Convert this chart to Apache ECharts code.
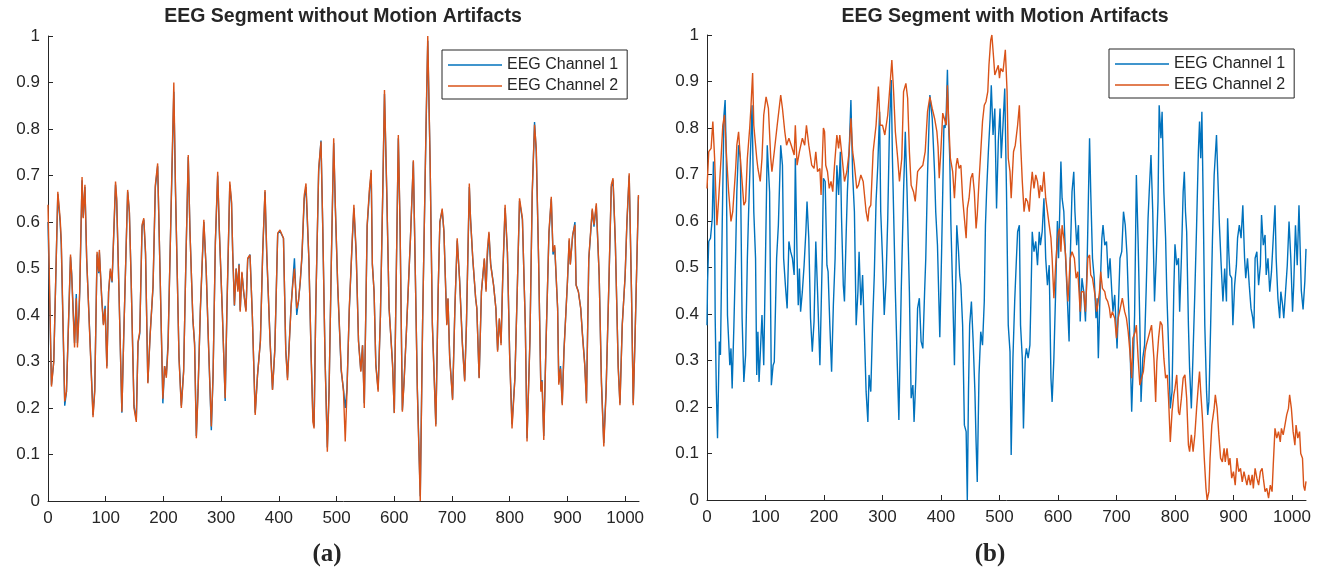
<!DOCTYPE html>
<html>
<head>
<meta charset="utf-8">
<script src="https://cdn.jsdelivr.net/npm/echarts@6/dist/echarts.min.js"></script>
<style>
  html, body { margin: 0; padding: 0; background: #fff; }
  #chart { width: 1326px; height: 571px; }
</style>
</head>
<body>
<div id="chart"></div>
<script>
// tick labels
const xTicks = [0, 100, 200, 300, 400, 500, 600, 700, 800, 900, 1000];
const seriesNames = ['EEG Channel 1', 'EEG Channel 2'];

// (a) without motion artifacts: sample index + both channels
const aX = [0,6,10,17,21,23,29,32,39,41,46,49,51,54,55,59,61,64,67,73,78,81,85,88,89,93,96,99,102,105,108,111,117,119,123,128,131,138,141,144,149,153,156,159,163,166,169,173,177,182,186,190,194,
  199,202,205,208,218,221,227,231,235,239,243,246,251,254,257,260,264,270,274,278,283,286,290,294,297,302,307,310,315,318,320,323,326,329,331,333,336,339,343,346,350,354,359,363,368,372,376,379,385,389,393,398,402,408,
  412,415,421,424,427,431,434,437,440,444,447,452,456,459,461,464,469,473,476,480,484,487,491,495,498,502,508,512,515,518,522,527,530,534,538,542,545,548,551,553,557,560,562,565,568,572,576,580,583,587,591,597,600,603,607,610,
  614,617,621,628,633,636,640,645,649,655,658,662,666,672,676,679,683,686,691,693,696,701,705,709,713,718,722,725,730,732,736,741,743,747,751,756,759,761,764,767,772,776,779,782,785,788,792,796,800,804,809,813,817,
  822,827,830,835,839,843,846,850,854,856,859,863,868,872,875,878,883,885,888,891,894,900,903,905,909,913,915,919,923,926,930,933,937,943,946,950,955,959,963,967,972,976,979,983,988,991,995,1000,1003,1007,1011,1014,1017,1023];
const aCh2 = [0.637,0.246,0.30,0.665,0.608,0.56,0.214,0.235,0.53,0.486,0.33,0.436,0.33,0.41,0.457,0.697,0.608,0.68,0.522,0.335,0.18,0.235,0.536,0.493,0.54,0.436,0.378,0.414,0.285,0.45,0.50,0.472,0.687,0.651,0.45,0.192,0.343,0.669,0.622,0.479,0.20,0.17,0.343,0.364,0.594,0.608,0.536,0.253,0.357,0.464,0.68,0.726,0.50,
  0.22,0.29,0.265,0.33,0.90,0.665,0.307,0.20,0.278,0.522,0.744,0.579,0.393,0.335,0.135,0.235,0.414,0.605,0.50,0.343,0.16,0.271,0.558,0.708,0.579,0.407,0.221,0.414,0.687,0.644,0.536,0.421,0.50,0.45,0.508,0.407,0.493,0.45,0.407,0.522,0.529,0.40,0.185,0.271,0.343,0.536,0.669,0.536,0.335,0.239,0.325,0.576,0.583,0.565,
  0.321,0.26,0.414,0.464,0.50,0.414,0.43,0.472,0.529,0.658,0.683,0.522,0.307,0.17,0.156,0.421,0.715,0.773,0.594,0.307,0.106,0.235,0.522,0.78,0.629,0.464,0.285,0.235,0.128,0.235,0.414,0.558,0.637,0.536,0.343,0.278,0.335,0.20,0.436,0.594,0.672,0.712,0.508,0.45,0.292,0.235,0.40,0.665,0.884,0.665,0.414,0.292,0.189,0.45,0.787,0.594,
  0.192,0.257,0.364,0.565,0.733,0.522,0.235,0.0,0.378,0.809,1.0,0.737,0.378,0.16,0.45,0.60,0.629,0.579,0.378,0.436,0.307,0.217,0.414,0.565,0.479,0.335,0.257,0.378,0.683,0.608,0.522,0.436,0.414,0.264,0.45,0.522,0.45,0.536,0.579,0.508,0.464,0.414,0.321,0.393,0.335,0.486,0.637,0.536,0.307,0.156,0.264,0.45,0.651,
  0.608,0.378,0.128,0.343,0.665,0.809,0.758,0.522,0.235,0.257,0.131,0.343,0.579,0.654,0.536,0.55,0.414,0.25,0.285,0.206,0.321,0.472,0.565,0.508,0.572,0.594,0.464,0.45,0.414,0.357,0.292,0.21,0.522,0.629,0.594,0.64,0.486,0.25,0.117,0.235,0.479,0.68,0.694,0.558,0.285,0.206,0.378,0.486,0.60,0.705,0.45,0.206,0.343,0.658];
const aCh1 = [0.60,0.25,0.30,0.66,0.60,0.55,0.205,0.235,0.525,0.49,0.34,0.445,0.34,0.42,0.45,0.69,0.61,0.675,0.52,0.34,0.185,0.24,0.53,0.49,0.535,0.44,0.38,0.42,0.29,0.45,0.495,0.47,0.68,0.645,0.45,0.19,0.345,0.665,0.62,0.48,0.205,0.175,0.34,0.36,0.59,0.605,0.53,0.255,0.36,0.46,0.675,0.72,0.50,
  0.21,0.29,0.27,0.34,0.88,0.66,0.31,0.205,0.28,0.52,0.74,0.58,0.39,0.34,0.14,0.24,0.41,0.60,0.50,0.34,0.152,0.27,0.555,0.70,0.575,0.41,0.215,0.41,0.68,0.64,0.535,0.42,0.50,0.455,0.51,0.41,0.49,0.45,0.41,0.52,0.53,0.40,0.19,0.27,0.345,0.535,0.665,0.53,0.34,0.24,0.325,0.575,0.58,0.565,
  0.325,0.265,0.415,0.47,0.522,0.40,0.43,0.47,0.525,0.65,0.675,0.52,0.31,0.18,0.16,0.42,0.71,0.775,0.59,0.31,0.115,0.24,0.52,0.77,0.625,0.46,0.28,0.24,0.20,0.24,0.41,0.555,0.63,0.53,0.345,0.28,0.335,0.21,0.43,0.59,0.665,0.705,0.51,0.45,0.295,0.24,0.40,0.66,0.875,0.66,0.415,0.295,0.19,0.45,0.78,0.59,
  0.195,0.26,0.365,0.565,0.73,0.52,0.24,0.01,0.38,0.80,0.99,0.735,0.38,0.165,0.45,0.60,0.625,0.58,0.38,0.435,0.31,0.22,0.415,0.56,0.48,0.34,0.26,0.38,0.675,0.61,0.52,0.435,0.415,0.265,0.45,0.52,0.455,0.52,0.575,0.51,0.465,0.415,0.325,0.39,0.34,0.485,0.63,0.535,0.31,0.165,0.265,0.45,0.645,
  0.605,0.38,0.135,0.345,0.66,0.815,0.75,0.52,0.24,0.26,0.14,0.345,0.575,0.65,0.53,0.545,0.415,0.255,0.29,0.21,0.325,0.47,0.56,0.51,0.57,0.60,0.465,0.45,0.415,0.36,0.295,0.215,0.52,0.625,0.59,0.635,0.485,0.255,0.125,0.24,0.475,0.675,0.69,0.555,0.29,0.21,0.38,0.485,0.595,0.70,0.45,0.21,0.345,0.655];

// (b) with motion artifacts: channel 1
const bX1 = [0,1,3,6,9,11,13,14,16,18,21,23,26,29,31,33,35,39,41,43,46,49,51,54,57,60,63,66,69,71,74,77,80,83,85,87,89,91,94,97,100,103,107,110,113,115,119,122,126,129,131,134,137,140,143,146,149,151,154,156,158,160,163,166,169,171,174,177,180,183,186,189,193,197,
  199,202,205,207,210,213,216,219,222,225,228,230,233,235,238,240,243,246,249,252,255,258,260,263,266,269,272,275,277,280,283,286,289,292,295,297,300,303,306,309,312,315,317,322,325,328,332,336,339,342,346,349,352,354,357,360,363,366,369,372,374,377,381,385,389,391,394,398,
  401,403,405,407,409,411,413,415,417,420,423,425,427,430,432,434,437,440,443,445,447,449,452,455,458,460,462,465,468,471,474,476,478,481,484,486,489,492,495,498,501,503,506,509,512,515,518,520,523,526,529,531,534,536,539,541,544,546,549,552,554,556,559,562,565,568,570,573,576,579,582,585,588,590,593,596,599,
  601,603,605,607,610,613,616,619,621,624,627,629,632,635,638,641,644,647,650,654,656,659,662,665,667,669,672,675,677,680,683,686,689,692,694,697,701,703,706,709,712,715,718,720,723,726,729,731,734,737,740,742,745,748,751,754,756,759,762,765,768,771,773,776,778,781,784,786,789,792,795,798,
  800,803,806,808,811,814,816,818,820,823,825,828,831,834,837,840,842,844,846,848,851,854,856,858,861,864,867,871,873,876,879,882,885,888,890,892,894,897,899,902,905,907,910,913,916,919,921,924,927,930,933,935,937,940,943,946,948,951,954,956,959,962,965,968,971,973,976,979,981,984,986,989,992,995,998,1001,1003,1006,1009,1012,1016,1019,1022,1024];
const bCh1 = [0.376,0.47,0.556,0.563,0.606,0.728,0.591,0.391,0.233,0.133,0.341,0.312,0.591,0.828,0.86,0.735,0.398,0.29,0.326,0.24,0.376,0.534,0.663,0.763,0.735,0.391,0.254,0.312,0.52,0.613,0.735,0.849,0.62,0.52,0.269,0.362,0.254,0.254,0.398,0.29,0.52,0.763,0.663,0.247,0.29,0.297,0.52,0.591,0.763,0.72,0.52,0.462,0.412,0.556,0.534,0.52,0.484,0.735,0.52,0.419,0.498,0.405,0.448,0.505,0.577,0.642,0.563,0.391,0.319,0.384,0.556,0.448,0.29,0.52,
  0.692,0.685,0.505,0.491,0.376,0.276,0.419,0.52,0.72,0.656,0.749,0.606,0.462,0.427,0.577,0.663,0.749,0.86,0.699,0.62,0.376,0.448,0.534,0.419,0.484,0.362,0.233,0.168,0.269,0.233,0.376,0.484,0.642,0.72,0.835,0.62,0.52,0.398,0.47,0.606,0.806,0.903,0.735,0.448,0.305,0.172,0.448,0.663,0.792,0.663,0.448,0.219,0.247,0.168,0.262,0.412,0.434,0.341,0.326,0.448,0.52,0.699,0.871,0.821,0.706,0.62,0.548,0.35,
  0.53,0.663,0.806,0.80,0.835,0.925,0.806,0.735,0.591,0.448,0.29,0.448,0.591,0.534,0.484,0.462,0.376,0.161,0.147,0.0,0.233,0.376,0.427,0.341,0.233,0.125,0.039,0.269,0.362,0.333,0.427,0.591,0.663,0.749,0.821,0.892,0.785,0.842,0.627,0.771,0.842,0.735,0.806,0.885,0.663,0.376,0.319,0.097,0.305,0.427,0.52,0.577,0.591,0.376,0.305,0.154,0.305,0.326,0.305,0.333,0.448,0.577,0.534,0.556,0.505,0.577,0.548,0.577,0.649,0.52,0.462,0.505,0.262,0.211,0.305,0.448,0.60,
  0.52,0.62,0.728,0.649,0.62,0.52,0.434,0.341,0.52,0.663,0.706,0.62,0.548,0.591,0.384,0.477,0.448,0.384,0.52,0.778,0.663,0.52,0.477,0.391,0.434,0.305,0.448,0.563,0.591,0.548,0.556,0.477,0.52,0.448,0.405,0.441,0.326,0.405,0.52,0.534,0.62,0.591,0.527,0.448,0.341,0.19,0.305,0.398,0.699,0.556,0.376,0.211,0.305,0.333,0.462,0.606,0.663,0.742,0.62,0.427,0.52,0.642,0.849,0.778,0.835,0.663,0.563,0.448,0.333,0.197,0.233,0.45,
  0.55,0.505,0.52,0.405,0.52,0.663,0.706,0.62,0.577,0.376,0.283,0.197,0.319,0.448,0.591,0.749,0.814,0.735,0.835,0.663,0.376,0.233,0.183,0.211,0.376,0.556,0.699,0.785,0.706,0.591,0.505,0.427,0.498,0.427,0.606,0.534,0.484,0.477,0.376,0.462,0.505,0.563,0.591,0.563,0.634,0.52,0.477,0.52,0.462,0.412,0.391,0.369,0.52,0.534,0.462,0.505,0.613,0.548,0.57,0.484,0.52,0.448,0.491,0.563,0.634,0.52,0.434,0.391,0.448,0.419,0.391,0.448,0.505,0.599,0.52,0.405,0.462,0.591,0.505,0.634,0.45,0.41,0.47,0.54];

// (b) with motion artifacts: channel 2
const bX2 = [0,3,7,10,13,17,20,24,27,30,33,37,41,44,49,51,54,57,60,63,66,69,73,75,78,80,85,87,91,94,97,101,105,109,111,115,120,126,129,133,136,140,144,149,151,154,158,163,167,170,174,179,183,186,189,193,195,199,
  201,203,206,209,212,215,218,222,225,227,230,235,239,243,246,249,252,256,259,263,267,272,275,277,280,284,289,293,296,300,304,309,312,316,319,322,326,329,333,336,340,343,346,349,353,356,360,364,369,373,377,381,385,389,393,395,397,
  400,403,406,409,411,413,416,420,423,426,428,431,434,437,440,443,445,448,451,454,457,460,462,465,468,471,474,477,480,482,485,487,490,492,495,498,500,502,506,510,513,515,518,520,524,527,531,534,536,539,542,545,548,551,553,556,559,562,565,568,570,573,576,579,582,585,588,590,593,596,599,
  601,603,605,607,610,613,617,621,624,628,631,634,638,640,644,647,651,654,656,659,664,666,668,671,673,676,680,682,685,688,690,693,697,700,703,706,710,714,717,720,723,726,728,732,734,737,740,743,746,749,751,754,757,760,764,767,769,772,775,778,781,784,787,789,792,795,798,
  800,803,806,808,811,814,817,820,823,825,828,831,834,837,840,842,844,847,850,853,855,858,860,863,867,869,872,875,878,881,884,886,889,892,894,897,900,903,906,909,912,915,918,920,923,926,929,932,934,937,940,943,946,949,951,954,957,960,963,966,968,971,974,977,980,982,985,988,991,994,996,999,1002,1005,1007,1010,1013,1015,1018,1020,1022,1024];
const bCh2 = [0.67,0.749,0.756,0.814,0.735,0.591,0.649,0.735,0.806,0.828,0.749,0.663,0.599,0.62,0.713,0.763,0.792,0.735,0.685,0.634,0.642,0.735,0.80,0.842,0.918,0.806,0.735,0.713,0.685,0.735,0.828,0.867,0.842,0.735,0.706,0.749,0.806,0.871,0.842,0.792,0.763,0.778,0.763,0.742,0.806,0.72,0.749,0.778,0.763,0.806,0.763,0.72,0.713,0.749,0.706,0.713,0.656,0.80,
  0.792,0.72,0.706,0.67,0.685,0.663,0.72,0.785,0.756,0.785,0.749,0.685,0.706,0.749,0.821,0.749,0.72,0.67,0.677,0.699,0.685,0.62,0.599,0.627,0.634,0.749,0.806,0.889,0.806,0.806,0.785,0.828,0.878,0.946,0.878,0.792,0.735,0.685,0.735,0.878,0.896,0.864,0.749,0.677,0.663,0.642,0.706,0.713,0.72,0.749,0.835,0.867,0.842,0.821,0.792,0.76,0.692,
  0.756,0.832,0.828,0.806,0.892,0.821,0.735,0.706,0.649,0.72,0.735,0.713,0.72,0.649,0.606,0.563,0.627,0.649,0.692,0.703,0.663,0.584,0.613,0.685,0.749,0.814,0.849,0.857,0.878,0.935,0.989,1.0,0.95,0.914,0.914,0.935,0.907,0.928,0.921,0.968,0.878,0.735,0.706,0.649,0.749,0.763,0.806,0.849,0.771,0.685,0.62,0.649,0.642,0.62,0.663,0.706,0.67,0.699,0.685,0.649,0.677,0.663,0.706,0.649,0.62,0.591,0.563,0.52,0.434,0.505,0.56,
  0.577,0.584,0.534,0.591,0.563,0.527,0.427,0.52,0.534,0.52,0.477,0.491,0.405,0.448,0.448,0.405,0.52,0.527,0.484,0.477,0.434,0.405,0.419,0.448,0.491,0.455,0.448,0.434,0.427,0.412,0.391,0.405,0.391,0.348,0.391,0.391,0.434,0.405,0.391,0.362,0.319,0.262,0.348,0.362,0.376,0.305,0.247,0.262,0.276,0.319,0.333,0.333,0.362,0.376,0.305,0.211,0.297,0.348,0.384,0.376,0.305,0.262,0.269,0.219,0.125,0.19,0.226,
  0.24,0.269,0.19,0.183,0.219,0.262,0.269,0.219,0.118,0.104,0.14,0.104,0.14,0.197,0.247,0.276,0.233,0.176,0.092,0.025,0.0,0.018,0.09,0.161,0.197,0.226,0.197,0.14,0.09,0.082,0.111,0.082,0.111,0.075,0.09,0.047,0.061,0.032,0.09,0.061,0.068,0.039,0.061,0.061,0.032,0.054,0.032,0.054,0.025,0.068,0.047,0.032,0.061,0.068,0.047,0.018,0.025,0.004,0.032,0.018,0.075,0.154,0.133,0.147,0.125,0.154,0.14,0.161,0.183,0.197,0.226,0.197,0.147,0.118,0.161,0.133,0.147,0.10,0.09,0.03,0.02,0.04];

const BLUE = '#0072BD';
const ORANGE = '#D95319';
const INK = '#262626';
const SANS = '"Liberation Sans", Arial, Helvetica, sans-serif';

function pairs(xs, ys) {
  return xs.map((x, i) => [x, ys[i]]);
}

function xAxisFor(gridIndex) {
  return {
    type: 'value', gridIndex: gridIndex, min: 0, max: 1024,
    axisLine: { show: true, lineStyle: { color: INK, width: 1 } },
    axisTick: { show: true, inside: true, length: 5, lineStyle: { color: INK }, customValues: xTicks },
    axisLabel: { color: INK, fontSize: 17, fontFamily: SANS, margin: 9, customValues: xTicks,
                 formatter: v => String(v) },
    splitLine: { show: false }
  };
}

function yAxisFor(gridIndex) {
  return {
    type: 'value', gridIndex: gridIndex, min: 0, max: 1, interval: 0.1,
    axisLine: { show: true, lineStyle: { color: INK, width: 1 } },
    axisTick: { show: true, inside: true, length: 5, lineStyle: { color: INK } },
    axisLabel: { color: INK, fontSize: 17, fontFamily: SANS, margin: 8 },
    splitLine: { show: false }
  };
}

function legendAt(left, top) {
  return {
    data: seriesNames, left: left, top: top, orient: 'vertical',
    selectedMode: false, icon: 'rect', itemWidth: 54, itemHeight: 1.5, itemGap: 3,
    padding: [6, 9, 4, 6],
    borderColor: INK, borderWidth: 1, backgroundColor: '#fff',
    textStyle: { color: INK, fontSize: 16, fontFamily: SANS, lineHeight: 18 }
  };
}

function lineSeries(name, color, data, axisIndex) {
  return {
    name: name, type: 'line', data: data, xAxisIndex: axisIndex, yAxisIndex: axisIndex,
    showSymbol: false, symbol: 'none', smooth: false,
    lineStyle: { color: color, width: 1.4 }, itemStyle: { color: color }
  };
}

function label(text, x, y, font) {
  return { type: 'text', x: x, y: y, style: { text: text, font: font, fill: INK, align: 'center', verticalAlign: 'middle' } };
}

const chart = echarts.init(document.getElementById('chart'), null, { renderer: 'canvas' });
chart.setOption({
  animation: false,
  backgroundColor: '#fff',
  grid: [
    { left: 48, top: 36, width: 591, height: 465 },
    { left: 707, top: 35, width: 599, height: 465 }
  ],
  xAxis: [xAxisFor(0), xAxisFor(1)],
  yAxis: [yAxisFor(0), yAxisFor(1)],
  legend: [legendAt(442, 50), legendAt(1109, 49)],
  graphic: [
    label('EEG Segment without Motion Artifacts', 343, 17, 'bold 19.5px ' + SANS),
    label('EEG Segment with Motion Artifacts', 1005, 17, 'bold 19.5px ' + SANS),
    label('(a)', 327, 555, 'bold 25px "Liberation Serif", "Times New Roman", serif'),
    label('(b)', 990, 555, 'bold 25px "Liberation Serif", "Times New Roman", serif')
  ],
  series: [
    lineSeries(seriesNames[0], BLUE, pairs(aX, aCh1), 0),
    lineSeries(seriesNames[1], ORANGE, pairs(aX, aCh2), 0),
    lineSeries(seriesNames[0], BLUE, pairs(bX1, bCh1), 1),
    lineSeries(seriesNames[1], ORANGE, pairs(bX2, bCh2), 1)
  ]
});
</script>
</body>
</html>
